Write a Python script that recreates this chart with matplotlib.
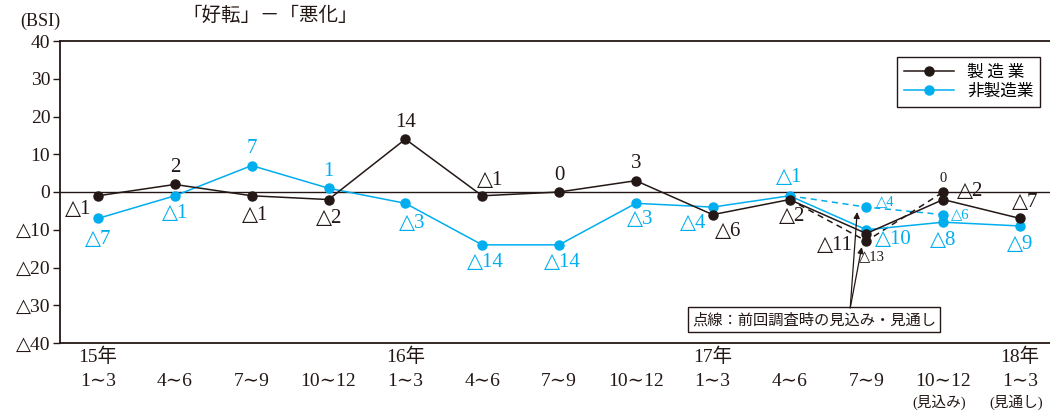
import matplotlib
matplotlib.use("Agg")
import matplotlib.pyplot as plt
from matplotlib.lines import Line2D

plt.rcParams['font.family'] = ['Liberation Serif', 'DejaVu Serif', 'Noto Sans CJK JP']

BLACK = '#231815'
BLUE = '#00aeef'

quarters = ['1∼3', '4∼6', '7∼9', '10∼12'] * 3 + ['1∼3']
years = {0: '15年', 4: '16年', 8: '17年', 12: '18年'}
notes = {11: '(見込み)', 12: '(見通し)'}

mfg = [-1, 2, -1, -2, 14, -1, 0, 3, -6, -2, -11, -2, -7]
nonmfg = [-7, -1, 7, 1, -3, -14, -14, -3, -4, -1, -10, -8, -9]
# previous survey forecasts (dotted) for index 9..11
prev_idx = [9, 10, 11]
mfg_prev = [-2, -13, 0]
nonmfg_prev = [-1, -4, -6]

yticks = [40, 30, 20, 10, 0, -10, -20, -30, -40]

def fmt(v):
    return '△%d' % (-v) if v < 0 else '%d' % v

# label offsets in pixels (dx, dy)
mfg_off = [(-20, -14), (0, 17), (3, -20), (1, -19), (0, 17), (8, 15), (0, 16),
           (0, 17), (15, -17), (3, -17), (-31, -12), (27, 8), (5, 16)]
nonmfg_off = [(0, -21), (0, -18), (0, 17), (0, 17), (7, -20), (3, -18), (3, -18),
              (4, -16), (-20, -16), (0, 18), (27, -10), (0, -18), (0, -19)]
mfg_prev_off = {10: (6, -16), 11: (0, 14)}
nonmfg_prev_off = {10: (19, 5), 11: (17, 0)}

fig = plt.figure(figsize=(10.5, 4.12), dpi=100)
ax = fig.add_axes([60/1050, 69/412, 990/1050, 302/412])

x = list(range(len(mfg)))
ax.axhline(0, color=BLACK, lw=1.0, zorder=1)

# dashed previous forecasts
ax.plot(prev_idx, nonmfg_prev, color=BLUE, lw=1.1, ls=(0, (4, 3)), zorder=2)
ax.plot(prev_idx[1:], nonmfg_prev[1:], 'o', color=BLUE, ms=6.5, zorder=2)
ax.plot(prev_idx, mfg_prev, color=BLACK, lw=1.1, ls=(0, (4, 3)), zorder=2)
ax.plot(prev_idx[1:], mfg_prev[1:], 'o', color=BLACK, ms=6.5, zorder=2)

ax.plot(x, nonmfg, '-o', color=BLUE, lw=1.1, ms=6.5, zorder=3)
ax.plot(x, mfg, '-o', color=BLACK, lw=1.1, ms=6.5, zorder=4)

for i, v in enumerate(mfg):
    ax.annotate(fmt(v), (i, v), xytext=mfg_off[i], textcoords='offset pixels',
                ha='center', va='center', fontsize=15, color=BLACK)
for i, v in enumerate(nonmfg):
    ax.annotate(fmt(v), (i, v), xytext=nonmfg_off[i], textcoords='offset pixels',
                ha='center', va='center', fontsize=15, color=BLUE)
for i, v in zip(prev_idx, mfg_prev):
    if i in mfg_prev_off:
        ax.annotate(fmt(v), (i, v), xytext=mfg_prev_off[i], textcoords='offset pixels',
                    ha='center', va='center', fontsize=10.5, color=BLACK)
for i, v in zip(prev_idx, nonmfg_prev):
    if i in nonmfg_prev_off:
        ax.annotate(fmt(v), (i, v), xytext=nonmfg_prev_off[i], textcoords='offset pixels',
                    ha='center', va='center', fontsize=10.5, color=BLUE)

ax.set_xlim(-0.495, 12.39)
ax.set_ylim(-40, 40)
ax.set_yticks(yticks)
ax.set_yticklabels([fmt(v) for v in yticks], fontsize=14, color=BLACK)
ax.tick_params(axis='y', direction='out', length=5, width=1, color=BLACK, pad=2)

ax.set_xticks(x)
ax.set_xticklabels([])
ax.tick_params(axis='x', length=0)
xt = ax.get_xaxis_transform()
for i, q in enumerate(quarters):
    ax.text(i, -0.126, q, transform=xt, ha='center', va='center', fontsize=14, color=BLACK)
for i, yv in years.items():
    ax.text(i, -0.046, yv, transform=xt, ha='center', va='center', fontsize=14, color=BLACK)
for i, nv in notes.items():
    ax.text(i - 0.05, -0.195, nv, transform=xt, ha='center', va='center', fontsize=10.5,
            color=BLACK)

for s in ['left', 'top', 'bottom']:
    ax.spines[s].set_color(BLACK)
    ax.spines[s].set_linewidth(1.3)
ax.spines['right'].set_visible(False)

# title and unit
fig.text(270/1050, 1 - 15/412, '「好転」－「悪化」', ha='center', va='center', fontsize=14,
         family=['Noto Sans CJK JP'], color=BLACK)
fig.text(40/1050, 1 - 21/412, '(BSI)', ha='center', va='center', fontsize=13, color=BLACK)

# note box with arrows
ax.text(9.32, -33.8, '点線：前回調査時の見込み・見通し', ha='center', va='center', fontsize=11,
        family=['Noto Sans CJK JP'], color=BLACK,
        bbox=dict(boxstyle='square,pad=0.25', fc='white', ec=BLACK, lw=1.0), zorder=5)
for tx, ty in [(9.88, -5.3), (9.94, -14.6)]:
    ax.annotate('', xy=(tx, ty), xytext=(9.79, -30.7),
                arrowprops=dict(arrowstyle='-|>', color=BLACK, lw=0.9,
                                mutation_scale=9, shrinkA=0, shrinkB=0), zorder=5)

handles = [Line2D([], [], color=BLACK, marker='o', lw=1.1, ms=6.5),
           Line2D([], [], color=BLUE, marker='o', lw=1.1, ms=6.5)]
leg = ax.legend(handles, ['製 造 業', '非製造業'], loc='upper right',
                bbox_to_anchor=(0.990, 0.947), prop={'family': 'Noto Sans CJK JP', 'size': 12},
                frameon=True, fancybox=False, edgecolor=BLACK, framealpha=1,
                handlelength=3.0, borderpad=0.4, labelspacing=0.15, handletextpad=0.8,
                borderaxespad=0)
leg.get_frame().set_linewidth(1.0)

fig.savefig('out.png', dpi=100)
